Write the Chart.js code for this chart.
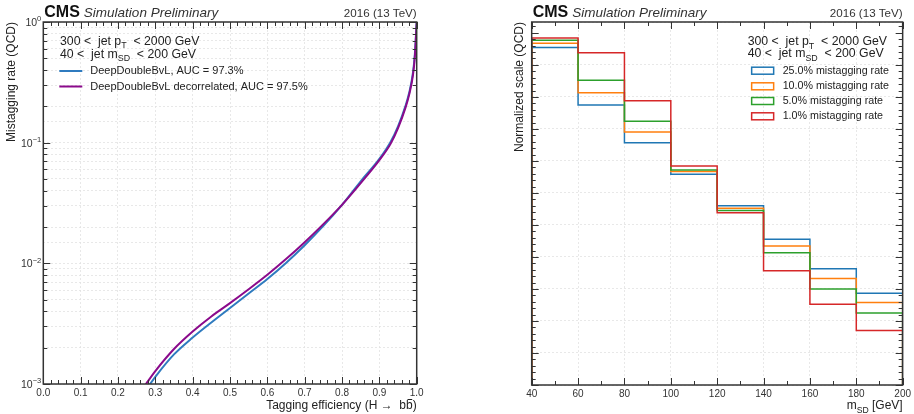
<!DOCTYPE html>
<html>
<head>
<meta charset="utf-8">
<script src="https://cdn.jsdelivr.net/npm/chart.js@4.4.0/dist/chart.umd.min.js"></script>
<style>
  html, body { margin: 0; padding: 0; background: #fff; }
  #left { position: absolute; left: 0; top: 0; width: 430px; height: 414px; }
  #right { position: absolute; left: 508px; top: 0; width: 406px; height: 414px; }
</style>
</head>
<body>
<div id="left"><canvas id="rocChart"></canvas></div>
<div id="right"><canvas id="massChart"></canvas></div>
<script>
// ROC curves (tagging efficiency vs mistagging rate)
const bvlEff = [0.276, 0.286, 0.30, 0.35, 0.40, 0.45, 0.50, 0.55, 0.60, 0.65, 0.70, 0.75, 0.80, 0.85, 0.90, 0.93, 0.95, 0.97, 0.98, 0.99, 0.995, 1.0];
const bvlMistag = [0.0009, 0.001, 0.001148, 0.001758, 0.002427, 0.003236, 0.004266, 0.005623, 0.007413, 0.01007, 0.01413, 0.02042, 0.03055, 0.04786, 0.07328, 0.1012, 0.1365, 0.2018, 0.26, 0.3802, 0.537, 1.0];
const decorrEff = [0.265, 0.275, 0.30, 0.35, 0.40, 0.45, 0.50, 0.55, 0.60, 0.65, 0.70, 0.75, 0.80, 0.85, 0.90, 0.93, 0.95, 0.97, 0.98, 0.99, 0.995, 1.0];
const decorrMistag = [0.000903, 0.001, 0.00128, 0.00195, 0.002723, 0.00363, 0.004677, 0.006095, 0.008035, 0.01084, 0.01496, 0.02113, 0.03055, 0.04624, 0.07161, 0.09772, 0.1318, 0.195, 0.2512, 0.3631, 0.5129, 1.0];

// soft-drop mass histograms, one per mistagging working point
const massEdges = [40, 60, 80, 100, 120, 140, 160, 180, 200];
const mistag25 = [10.54, 8.75, 7.57, 6.58, 5.60, 4.55, 3.63, 2.87];
const mistag10 = [10.68, 9.13, 7.90, 6.67, 5.52, 4.34, 3.33, 2.58];
const mistag5 = [10.77, 9.52, 8.24, 6.72, 5.45, 4.13, 3.00, 2.25];
const mistag1 = [10.84, 10.38, 8.88, 6.84, 5.38, 3.57, 2.52, 1.70];

const rocLabels = ['DeepDoubleBvL, AUC = 97.3%', 'DeepDoubleBvL decorrelated, AUC = 97.5%'];
const massLabels = ['25.0% mistagging rate', '10.0% mistagging rate', '5.0% mistagging rate', '1.0% mistagging rate'];
const rocTicks = [0, 0.1, 0.2, 0.3, 0.4, 0.5, 0.6, 0.7, 0.8, 0.9, 1.0];
const rocDecades = [0.001, 0.01, 0.1, 1];
const massTicks = [40, 60, 80, 100, 120, 140, 160, 180, 200];

const FONT = '"Liberation Sans", Arial, Helvetica, sans-serif';
Chart.defaults.font.family = FONT;
Chart.defaults.color = '#333';

function richText(ctx, x, y, parts, size, align) {
  let total = 0;
  const widths = parts.map(([t, k]) => {
    ctx.font = (k ? size * 0.72 : size) + 'px ' + FONT;
    const w = ctx.measureText(t).width;
    total += w;
    return w;
  });
  let cx = align === 'right' ? x - total : x;
  ctx.textAlign = 'left';
  parts.forEach(([t, k], i) => {
    ctx.font = (k ? size * 0.72 : size) + 'px ' + FONT;
    const dy = k === 'sub' ? size * 0.3 : (k === 'sup' ? -size * 0.45 : 0);
    ctx.fillText(t, cx, y + dy);
    cx += widths[i];
  });
}

function drawHeader(chart) {
  const { ctx, chartArea: a } = chart;
  ctx.save();
  ctx.fillStyle = '#111';
  ctx.textBaseline = 'alphabetic';
  ctx.textAlign = 'left';
  ctx.font = 'bold 16px ' + FONT;
  ctx.fillText('CMS', a.left + 1, 17);
  const w = ctx.measureText('CMS').width;
  ctx.font = 'italic 13.5px ' + FONT;
  ctx.fillStyle = '#333';
  ctx.fillText('Simulation Preliminary', a.left + w + 5, 17);
  ctx.font = '11.6px ' + FONT;
  ctx.textAlign = 'right';
  ctx.fillText('2016 (13 TeV)', a.right, 17);
  ctx.restore();
}

function drawFrame(chart, xMaj, xMin, yMaj, yMin) {
  const { ctx, chartArea: a, scales: { x, y } } = chart;
  ctx.save();
  ctx.strokeStyle = '#333';
  ctx.lineWidth = 1;
  ctx.beginPath();
  const vx = (v, len) => {
    const p = Math.round(x.getPixelForValue(v)) + 0.5;
    ctx.moveTo(p, a.bottom); ctx.lineTo(p, a.bottom - len);
    ctx.moveTo(p, a.top); ctx.lineTo(p, a.top + len);
  };
  const vy = (v, len) => {
    const p = Math.round(y.getPixelForValue(v)) + 0.5;
    ctx.moveTo(a.left, p); ctx.lineTo(a.left + len, p);
    ctx.moveTo(a.right, p); ctx.lineTo(a.right - len, p);
  };
  xMaj.forEach(v => vx(v, 7));
  xMin.forEach(v => vx(v, 4));
  yMaj.forEach(v => vy(v, 7));
  yMin.forEach(v => vy(v, 4));
  ctx.stroke();
  ctx.lineWidth = 1.5;
  ctx.strokeRect(a.left, a.top, a.right - a.left, a.bottom - a.top);
  ctx.restore();
}

const gridOpts = { color: '#e2e2e2', lineWidth: 0.8, drawTicks: false };
const borderOpts = { display: false, dash: [2, 2] };

// ---------- left: ROC ----------
const rocMinorX = [];
for (let i = 0; i <= 50; i++) if (i % 5) rocMinorX.push(i / 50);
const rocMinorY = [];
[0.001, 0.01, 0.1].forEach(d => { for (let k = 2; k <= 9; k++) rocMinorY.push(d * k); });

new Chart(document.getElementById('rocChart'), {
  type: 'line',
  data: {
    datasets: [
      {
        label: rocLabels[0],
        data: bvlEff.map((e, i) => ({ x: e, y: bvlMistag[i] })),
        borderColor: '#2f7bbf', borderWidth: 2, pointRadius: 0,
        cubicInterpolationMode: 'monotone', order: 1
      },
      {
        label: rocLabels[1],
        data: decorrEff.map((e, i) => ({ x: e, y: decorrMistag[i] })),
        borderColor: '#8b0a8b', borderWidth: 2, pointRadius: 0,
        cubicInterpolationMode: 'monotone', order: 0
      }
    ]
  },
  options: {
    responsive: true, maintainAspectRatio: false, animation: false, devicePixelRatio: 1,
    layout: { padding: { top: 22, right: 13.3, left: 0, bottom: 0 } },
    plugins: { legend: { display: false }, tooltip: { enabled: false } },
    scales: {
      x: {
        type: 'linear', min: 0, max: 1,
        grid: gridOpts, border: borderOpts,
        afterBuildTicks: s => { s.ticks = rocTicks.map(v => ({ value: v })); },
        ticks: { padding: 3, font: { size: 10 }, color: '#333', maxRotation: 0, autoSkip: false,
                 callback: v => Number(v).toFixed(1) },
        afterFit: s => { s.height = 30; }
      },
      y: {
        type: 'logarithmic', min: 0.001, max: 1,
        grid: gridOpts, border: borderOpts,
        ticks: { display: false },
        title: { display: true, text: 'Mistagging rate (QCD)', align: 'end', font: { size: 12 }, color: '#222' },
        afterFit: s => { s.width = 43.3; }
      }
    }
  },
  plugins: [{
    id: 'rocDecor',
    afterDraw(chart) {
      const { ctx, chartArea: a, scales: { y } } = chart;
      drawFrame(chart, rocTicks, rocMinorX, rocDecades, rocMinorY);
      drawHeader(chart);
      ctx.save();
      ctx.fillStyle = '#333';
      ctx.textBaseline = 'alphabetic';
      // decade labels 10^n
      rocDecades.forEach(d => {
        const e = Math.round(Math.log10(d));
        richText(ctx, a.left - 2, y.getPixelForValue(d) + 4, [['10'], [e === 0 ? '0' : '\u2212' + (-e), 'sup']], 10.5, 'right');
      });
      ctx.fillStyle = '#222';
      richText(ctx, a.left + 16.7, 44.5, [['300 <  jet p'], ['T', 'sub'], ['  < 2000 GeV']], 12.3);
      richText(ctx, a.left + 16.7, 57.5, [['40 <  jet m'], ['SD', 'sub'], ['  < 200 GeV']], 12.3);
      const ds = chart.data.datasets;
      [71, 86.5].forEach((yy, i) => {
        ctx.strokeStyle = ds[i].borderColor;
        ctx.lineWidth = 2;
        ctx.beginPath(); ctx.moveTo(a.left + 16, yy); ctx.lineTo(a.left + 39, yy); ctx.stroke();
        ctx.font = '11px ' + FONT;
        ctx.textAlign = 'left'; ctx.textBaseline = 'middle';
        ctx.fillText(rocLabels[i], a.left + 47, yy);
      });
      ctx.textBaseline = 'alphabetic';
      ctx.font = '12px ' + FONT;
      ctx.textAlign = 'right';
      ctx.fillText('Tagging efficiency (H \u2192  bb)', a.right, 409);
      // bar over the second b
      const wp = ctx.measureText(')').width, wb = ctx.measureText('b').width;
      ctx.strokeStyle = '#222'; ctx.lineWidth = 1;
      ctx.beginPath();
      ctx.moveTo(a.right - wp - wb + 1.5, 399.5); ctx.lineTo(a.right - wp - 0.5, 399.5);
      ctx.stroke();
      ctx.restore();
    }
  }]
});

// ---------- right: soft-drop mass ----------
function histPoints(vals) {
  const last = massEdges[massEdges.length - 1];
  const pts = [{ x: massEdges[0], y: 0 }];
  vals.forEach((v, i) => pts.push({ x: massEdges[i], y: v }));
  pts.push({ x: last, y: vals[vals.length - 1] });
  pts.push({ x: last, y: 0 });
  return pts;
}
const massColors = ['#1f77b4', '#ff7f0e', '#2ca02c', '#d62728'];
const massSeries = [mistag25, mistag10, mistag5, mistag1];
const massMinorX = [50, 70, 90, 110, 130, 150, 170, 190];
const massMajorY = [], massMinorY = [];
for (let i = 0; i <= 56; i++) {
  const v = i / 5;
  if (i % 5 === 0) massMajorY.push(v); else massMinorY.push(v);
}

new Chart(document.getElementById('massChart'), {
  type: 'line',
  data: {
    datasets: massSeries.map((vals, i) => ({
      label: massLabels[i],
      data: histPoints(vals),
      stepped: 'before',
      borderColor: massColors[i], borderWidth: 1.5, pointRadius: 0,
      order: 3 - i
    }))
  },
  options: {
    responsive: true, maintainAspectRatio: false, animation: false, devicePixelRatio: 1,
    layout: { padding: { top: 22, right: 10, left: 0, bottom: 0 } },
    plugins: { legend: { display: false }, tooltip: { enabled: false } },
    scales: {
      x: {
        type: 'linear', min: 40, max: 200,
        grid: gridOpts, border: borderOpts,
        afterBuildTicks: s => { s.ticks = massTicks.map(v => ({ value: v })); },
        ticks: { padding: 3, font: { size: 10 }, color: '#333', maxRotation: 0, autoSkip: false },
        afterFit: s => { s.height = 29; }
      },
      y: {
        type: 'linear', min: 0, max: 11.34,
        grid: gridOpts, border: borderOpts,
        ticks: { stepSize: 1, display: false },
        title: { display: true, text: 'Normalized scale (QCD)', align: 'end', font: { size: 12 }, color: '#222' },
        afterFit: s => { s.width = 23.7; }
      }
    }
  },
  plugins: [{
    id: 'massDecor',
    afterDraw(chart) {
      const { ctx, chartArea: a } = chart;
      drawFrame(chart, massTicks, massMinorX, massMajorY, massMinorY);
      drawHeader(chart);
      ctx.save();
      ctx.fillStyle = '#222';
      ctx.textBaseline = 'alphabetic';
      const tx = a.right - 155;
      richText(ctx, tx, 45, [['300 <  jet p'], ['T', 'sub'], ['  < 2000 GeV']], 12.3);
      richText(ctx, tx, 57, [['40 <  jet m'], ['SD', 'sub'], ['  < 200 GeV']], 12.3);
      [70.7, 86.3, 101, 116.3].forEach((yy, i) => {
        ctx.strokeStyle = massColors[i];
        ctx.lineWidth = 1.5;
        ctx.strokeRect(tx + 4, yy - 3.5, 22, 7);
        ctx.font = '10.7px ' + FONT;
        ctx.textAlign = 'left'; ctx.textBaseline = 'middle';
        ctx.fillText(massLabels[i], tx + 35, yy);
      });
      ctx.textBaseline = 'alphabetic';
      richText(ctx, a.right, 409, [['m'], ['SD', 'sub'], [' [GeV]']], 12, 'right');
      ctx.restore();
    }
  }]
});
</script>
</body>
</html>
